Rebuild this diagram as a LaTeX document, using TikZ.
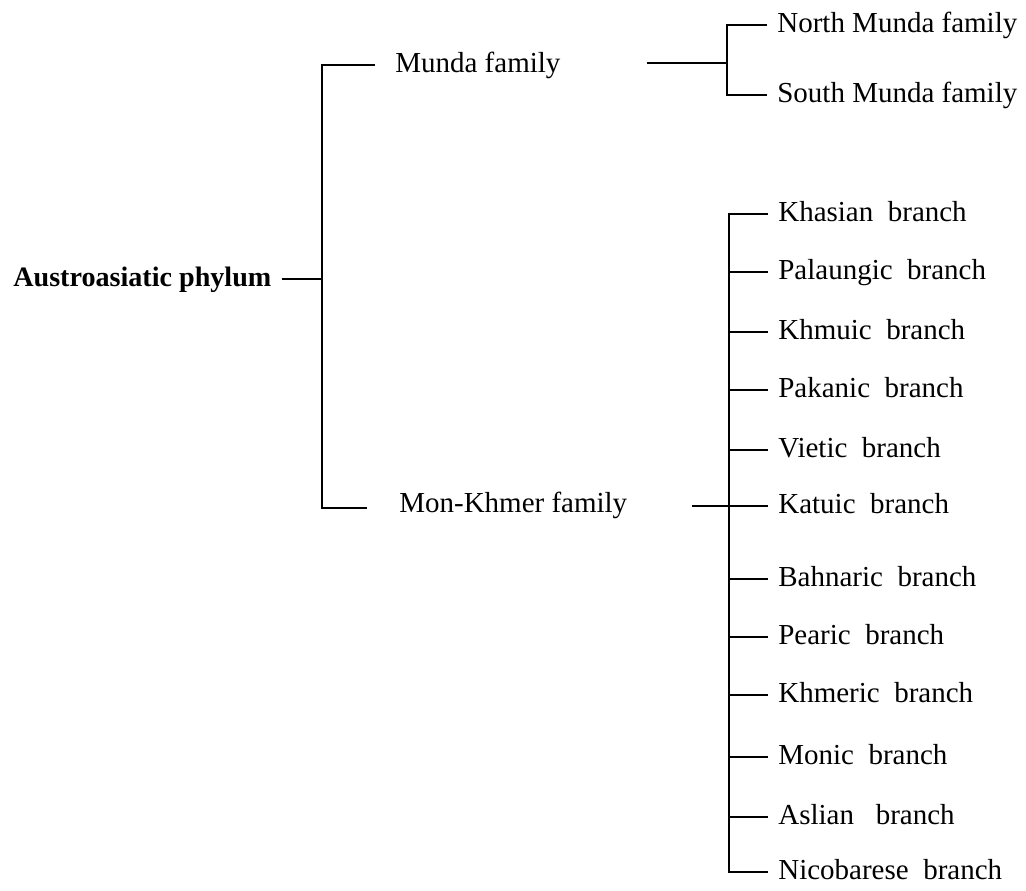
\documentclass[tikz,border=0pt]{standalone}
\usepackage{fontspec}
\setmainfont{Liberation Serif}
\usepackage{tikz}
\usetikzlibrary{calc}
\tikzstyle{lang} = [anchor=west, inner xsep=0.2cm, inner ysep=0pt, text height=11pt, text depth=3pt, font=\fontsize{16.5}{20}\selectfont]
\tikzstyle{link} = [line width=1.3pt]

\begin{document}
\begin{tikzpicture}[
            x=0.02cm, y=-0.02cm
        ]
            \useasboundingbox (0,0) rectangle (1026,891);

            \node[lang, font=\fontsize{16}{20}\selectfont\bfseries] (phylum) at (3,279) {Austroasiatic phylum};
            \node[lang] (munda) at (385,65) {Munda family};
            \node[lang] (monkhmer) at (389,505) {Mon-Khmer family};

            \node[lang] (north) at (767,25) {North Munda family};
            \node[lang] (south) at (767,95) {South Munda family};

            \node[lang] (khasian) at (768,214) {Khasian\ \ branch};
            \node[lang] (palaungic) at (768,272) {Palaungic\ \ branch};
            \node[lang] (khmuic) at (768,332) {Khmuic\ \ branch};
            \node[lang] (pakanic) at (768,390) {Pakanic\ \ branch};
            \node[lang] (vietic) at (768,450) {Vietic\ \ branch};
            \node[lang] (katuic) at (768,506) {Katuic\ \ branch};
            \node[lang] (bahnaric) at (768,579) {Bahnaric\ \ branch};
            \node[lang] (pearic) at (768,637) {Pearic\ \ branch};
            \node[lang] (khmeric) at (768,695) {Khmeric\ \ branch};
            \node[lang] (monic) at (768,757) {Monic\ \ branch};
            \node[lang] (aslian) at (768,817) {Aslian\ \ \ branch};
            \node[lang] (nicobarese) at (768,872) {Nicobarese\ \ branch};

            % first split
            \coordinate (top) at (322,65);
            \coordinate (bot) at (322,508);
            \coordinate (mundaL) at (375,65);
            \coordinate (monkhL) at (367,508);
            \draw[link] (phylum.east) -- (phylum.east -| top);
            \draw[link] (mundaL) -- (top) -- (bot) -- (monkhL);

            % Munda
            \coordinate (mundaR) at (647,63);
            \coordinate (mdspine) at (727,0);
            \draw[link] (mundaR) -- (mundaR -| mdspine);
            \draw[link] (north.west) -- (north.west -| mdspine) |- (south.west);

            % Mon-Khmer
            \coordinate (monkhR) at (692,506);
            \coordinate (mkspine) at (729,0);
            \draw[link] (monkhR) -- (katuic.west);
            \draw[link] (khasian.west) -- (khasian.west -| mkspine) |- (nicobarese.west);
            \draw[link] (palaungic.west) -- (palaungic.west -| mkspine);
            \draw[link] (khmuic.west) -- (khmuic.west -| mkspine);
            \draw[link] (pakanic.west) -- (pakanic.west -| mkspine);
            \draw[link] (vietic.west) -- (vietic.west -| mkspine);
            \draw[link] (bahnaric.west) -- (bahnaric.west -| mkspine);
            \draw[link] (pearic.west) -- (pearic.west -| mkspine);
            \draw[link] (khmeric.west) -- (khmeric.west -| mkspine);
            \draw[link] (monic.west) -- (monic.west -| mkspine);
            \draw[link] (aslian.west) -- (aslian.west -| mkspine);

        \end{tikzpicture}
\end{document}
